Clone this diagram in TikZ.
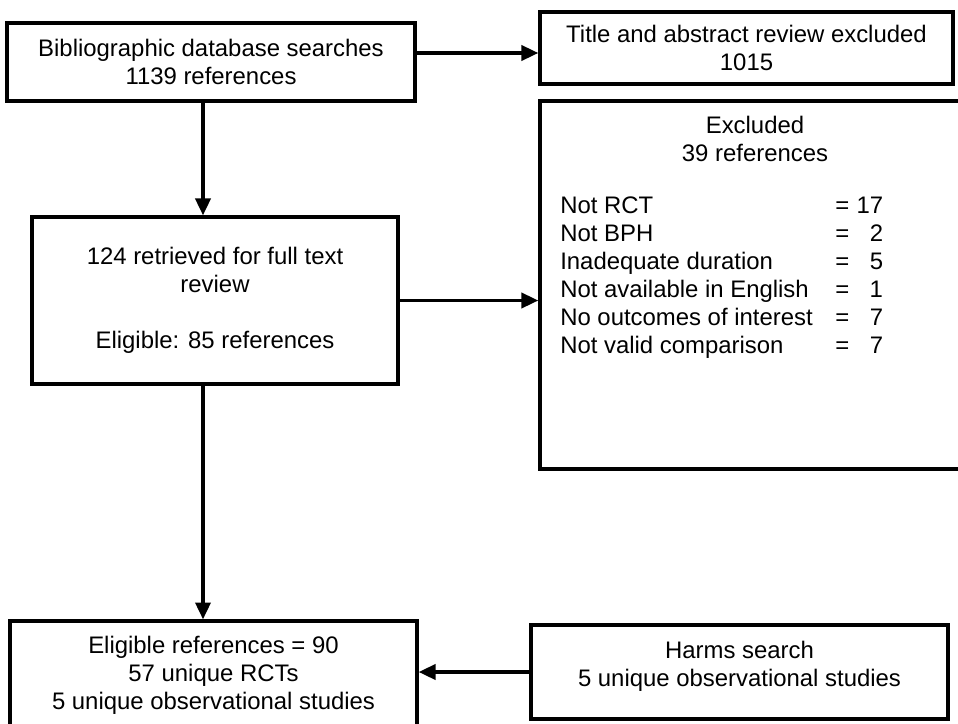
\documentclass[tikz,border=0pt]{standalone}
\usepackage{fontspec}
\setmainfont{Liberation Sans}
\usetikzlibrary{arrows.meta,positioning}

\begin{document}
\begin{tikzpicture}[
      x=0.025cm, y=-0.025cm,
      box/.style={rectangle, draw, line width=2.4pt, align=center, inner sep=0pt, font=\fontsize{17}{19.8}\selectfont},
      txt/.style={inner sep=0pt, align=center, font=\fontsize{17}{19.8}\selectfont},
      arrow/.style={-{Triangle[length=4.2mm,width=3.8mm]}, line width=2.2pt}
    ]
    \useasboundingbox (0,0) rectangle (958,723);

    % ============ SEARCH ============
    \node[box, minimum width=10.2cm, minimum height=1.95cm] (search) at (211,62) {Bibliographic database searches\\1139 references};
    \node[box, minimum width=10.325cm, minimum height=1.8cm] (titleabs) at (746.5,48) {Title and abstract review excluded\\1015};

    % ============ FULL TEXT REVIEW ============
    \node[box, minimum width=9.15cm, minimum height=4.175cm] (fulltext) at (215,300.5) {124 retrieved for full text\\review\\[19.8pt]Eligible: 85 references};

    % Excluded box (runs off the right edge)
    \node[box, minimum width=10.75cm, minimum height=9.2cm] (excl) at (755,285) {};
    \node[txt] (exclhead) at (755,139) {Excluded\\39 references};
    \node[txt, anchor=west, align=left] (excllist) at (560,278) {%
      \begin{tabular}{@{}p{6.875cm}@{}c@{\hspace{0.18cm}}r@{}}
        Not RCT & = & 17\\
        Not BPH & = & 2\\
        Inadequate duration & = & 5\\
        Not available in English & = & 1\\
        No outcomes of interest & = & 7\\
        Not valid comparison & = & 7
      \end{tabular}};

    % ============ INCLUDED ============
    \node[box, minimum width=10.175cm, minimum height=2.7cm] (elig) at (213.5,675) {Eligible references = 90\\57 unique RCTs\\5 unique observational studies};
    \node[box, minimum width=10.425cm, minimum height=2.35cm, text depth=0.4cm] (harms) at (739.5,672) {Harms search\\5 unique observational studies};

    % Arrows
    \coordinate (s1) at ([yshift=0.225cm]search.east);
    \draw[arrow] (s1) -- (s1 -| titleabs.west);
    \coordinate (s2) at ([xshift=-0.2cm]search.south);
    \draw[arrow] (s2) -- (s2 |- fulltext.north);
    \draw[arrow] (fulltext.east) -- (fulltext.east -| excl.west);
    \coordinate (f1) at ([xshift=-0.3cm]fulltext.south);
    \draw[arrow] (f1) -- (f1 |- elig.north);
    \draw[arrow] (harms.west) -- (harms.west -| elig.east);

  \end{tikzpicture}
\end{document}
